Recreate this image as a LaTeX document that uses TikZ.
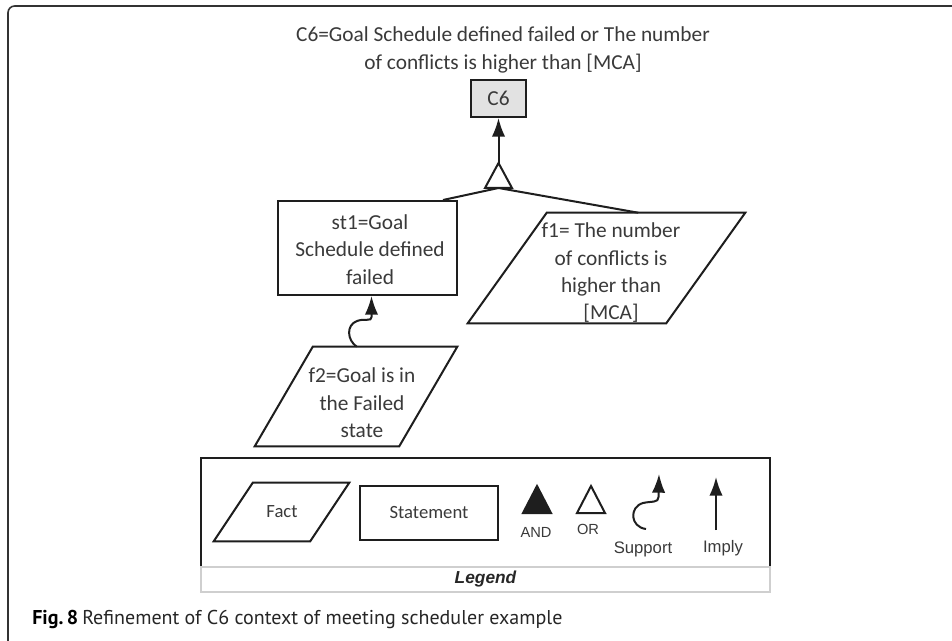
\documentclass[tikz,border=0pt]{standalone}
\usepackage{fontspec}
\setmainfont{Carlito}
\newfontfamily\arialf{Liberation Sans}
\newfontfamily\capf{PT Sans}
\usetikzlibrary{arrows.meta,calc}
\definecolor{txt}{HTML}{3A3A3A}
\definecolor{ln}{HTML}{1E1E1E}
\definecolor{framec}{HTML}{333333}
\definecolor{gfill}{HTML}{E2E2E2}
\definecolor{stripc}{HTML}{CFCFCF}
\begin{document}
\begin{tikzpicture}[x=0.75pt,y=-0.75pt,
  every node/.style={text=txt, inner sep=0pt},
  box/.style={draw=ln, line width=1.5pt, rectangle},
  conn/.style={draw=ln, line width=1.5pt},
  arr/.style={-{Latex[length=14pt,width=10pt]}},
  mtxt/.style={font=\fontsize{16}{20.5}\selectfont, align=center},
  ltxt/.style={font=\fontsize{14}{16}\selectfont},
  atxt/.style={font=\arialf\fontsize{12.5}{14}\selectfont},
]
\useasboundingbox (0,0) rectangle (952,641);
\fill[white] (0,0) rectangle (952,641);
% frame
\draw[framec, line width=1.2pt, rounded corners=5pt] (8,641) -- (8,6) -- (952,6);

% title
\node[mtxt] (title) at (503,50) {C6=Goal Schedule defined failed or The number\\of conflicts is higher than [MCA]};

% C6
\node[box, fill=gfill, minimum width=41.25pt, minimum height=27.75pt, font=\fontsize{16}{20}\selectfont] (c6) at (498.5,98.5) {C6};

% st1
\node[box, minimum width=134.25pt, minimum height=70.5pt] (st1) at (367.5,248) {};
\node[mtxt] (st1t) at (370,249.5) {st1=Goal\\Schedule defined\\failed};

% f1 (parallelogram, slant 79)
\node[minimum width=207.75pt, minimum height=82.5pt] (f1) at (606.5,268) {};
\draw[conn] ($(f1.north west)+(79,0)$) -- (f1.north east) -- ($(f1.south east)+(-79,0)$) -- (f1.south west) -- cycle;
\node[mtxt] (f1t) at (611,273) {f1= The number\\of conflicts is\\higher than\\{[MCA]}};

% f2 (parallelogram, slant 58)
\node[minimum width=151.5pt, minimum height=74.25pt] (f2) at (356,396.5) {};
\draw[conn] ($(f2.north west)+(58,0)$) -- (f2.north east) -- ($(f2.south east)+(-58,0)$) -- (f2.south west) -- cycle;
\node[mtxt] (f2t) at (362,403) {f2=Goal is in\\the Failed\\state};

% OR gate
\coordinate (orT) at (498.5,163);
\coordinate (orB) at (498.5,188);
\draw[conn] (orB) -- ($(st1.north east)+(-15,0)$);
\draw[conn] (orB) -- ($(f1.north east)+(-107,0)$);
\draw[conn, fill=white] (orT) -- ++(13.5,25) -- ++(-27,0) -- cycle;
\draw[conn, arr] (orT) -- (c6.south);

% support f2 -> st1
\draw[conn, arr] ($(f2.north west)+(102,0)$)
  .. controls (347,340) and (346,325) .. (357,321)
  .. controls (365,318) and (371.5,322) .. (371.5,317) -- ($(st1.south)+(4,0)$);

% legend
\node[draw=ln, line width=1.5pt, minimum width=426.75pt, minimum height=81.75pt] (leg) at (485.5,512.5) {};
\node[draw=stripc, line width=0.8pt, minimum width=426.75pt, minimum height=18.75pt, text=black!85, font=\arialf\bfseries\itshape\fontsize{13}{15}\selectfont] (legl) at (485.5,579.5) {Legend};

\node[minimum width=101.25pt, minimum height=43.5pt] (fact) at (281.5,512) {};
\draw[conn] ($(fact.north west)+(39,0)$) -- (fact.north east) -- ($(fact.south east)+(-39,0)$) -- (fact.south west) -- cycle;
\node[ltxt] (factt) at (282,512) {Fact};
\node[box, ltxt, minimum width=103.5pt, minimum height=40.5pt] (stm) at (429,513) {Statement};

\coordinate (andT) at (537,486);
\draw[conn, fill=ln] (andT) -- ++(14,27) -- ++(-28,0) -- cycle;
\node[font=\arialf\fontsize{11}{13}\selectfont] (andl) at (536,532) {AND};

\coordinate (orlT) at (591,486);
\draw[conn, fill=white] (orlT) -- ++(14,27) -- ++(-28,0) -- cycle;
\node[font=\arialf\fontsize{11}{13}\selectfont] (orl) at (588,529) {OR};

\coordinate (supS) at (646,529);
\coordinate (supE) at (659,474);
\draw[conn, arr] (supS) .. controls (630,527) and (629,507) .. (643,503)
  .. controls (652,501) and (658.5,503) .. (658.5,497) -- (supE);
\node[atxt] (supl) at (643,549) {Support};

\coordinate (impS) at (716,530);
\coordinate (impE) at (716,477);
\draw[conn, arr] (impS) -- (impE);
\node[atxt] (impl) at (723,548) {Imply};

% caption
\node[anchor=base west, font=\capf\bfseries\fontsize{15}{17}\selectfont, text=black] (fig) at (32,624) {Fig.\,8};
\node[anchor=base west, font=\capf\fontsize{15}{17}\selectfont, text=black!85] (cap) at (82,624) {Refinement of C6 context of meeting scheduler example};
\end{tikzpicture}
\end{document}
